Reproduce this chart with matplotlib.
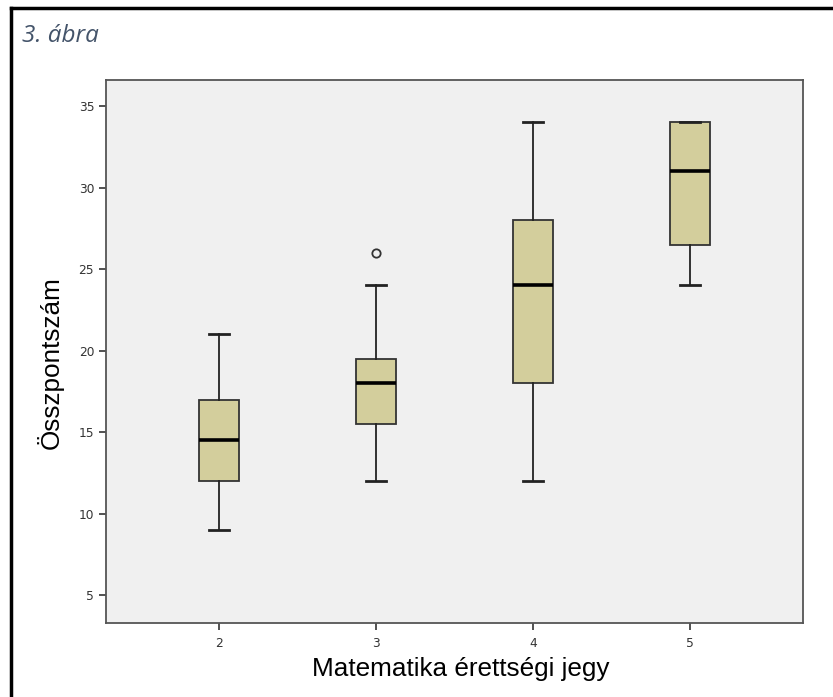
import matplotlib.pyplot as plt
from matplotlib.lines import Line2D

# --- data
grades = [2, 3, 4, 5]
whislo = [9, 12, 12, 24]
q1 = [12, 15.5, 18, 26.5]
med = [14.5, 18, 24, 31]
q3 = [17, 19.5, 28, 34]
whishi = [21, 24, 34, 34]
outliers = [[], [26], [], []]

stats = []
for i, g in enumerate(grades):
    stats.append({
        "label": str(g), "whislo": whislo[i], "q1": q1[i], "med": med[i],
        "q3": q3[i], "whishi": whishi[i], "fliers": outliers[i],
    })

fig = plt.figure(figsize=(8.33, 6.97), dpi=100)
ax = fig.add_axes([0.1273, 0.1062, 0.964 - 0.1273, 0.8852 - 0.1062])
ax.set_facecolor("#f0f0f0")

ax.bxp(stats, positions=grades, widths=0.255, patch_artist=True,
       boxprops=dict(facecolor="#d3ce9c", edgecolor="#333333", linewidth=1.3),
       medianprops=dict(color="black", linewidth=2.6),
       whiskerprops=dict(color="#222222", linewidth=1.3),
       capprops=dict(color="#222222", linewidth=2.0),
       capwidths=0.13,
       flierprops=dict(marker="o", markersize=6, markerfacecolor="none",
                       markeredgecolor="#333333", markeredgewidth=1.3))

ax.set_xlim(1.28, 5.72)
ax.set_ylim(3.29, 36.6)
ax.set_yticks([5, 10, 15, 20, 25, 30, 35])
ax.set_xticks(grades)
ax.set_xticklabels([str(g) for g in grades])
ax.tick_params(axis="both", direction="out", length=5, width=1.2,
               colors="#333333", labelsize=8.8, labelcolor="#333333")
ax.tick_params(axis="x", pad=5)
for s in ax.spines.values():
    s.set_color("#555555")
    s.set_linewidth(1.3)

ax.set_xlabel("Matematika érettségi jegy", fontsize=18.8, family="Liberation Sans")
ax.set_ylabel("Összpontszám", fontsize=18.8, family="Liberation Sans")
# label placement as in the reference (slightly off-centre)
ax.xaxis.set_label_coords(0.5086, -0.062)
ax.yaxis.set_label_coords(-0.06, 0.479)

# caption and outer frame
fig.text(22 / 833, 1 - 36 / 697, "3. ábra", fontsize=17.5, style="italic",
         family="Open Sans", color="#44546a", va="center", ha="left")
fig.add_artist(Line2D([11 / 833, 1], [1 - 8 / 697, 1 - 8 / 697],
                      transform=fig.transFigure, color="black", linewidth=2.5))
fig.add_artist(Line2D([11 / 833, 11 / 833], [0, 1 - 8 / 697],
                      transform=fig.transFigure, color="black", linewidth=2.5))

fig.savefig("out.png", dpi=100)
